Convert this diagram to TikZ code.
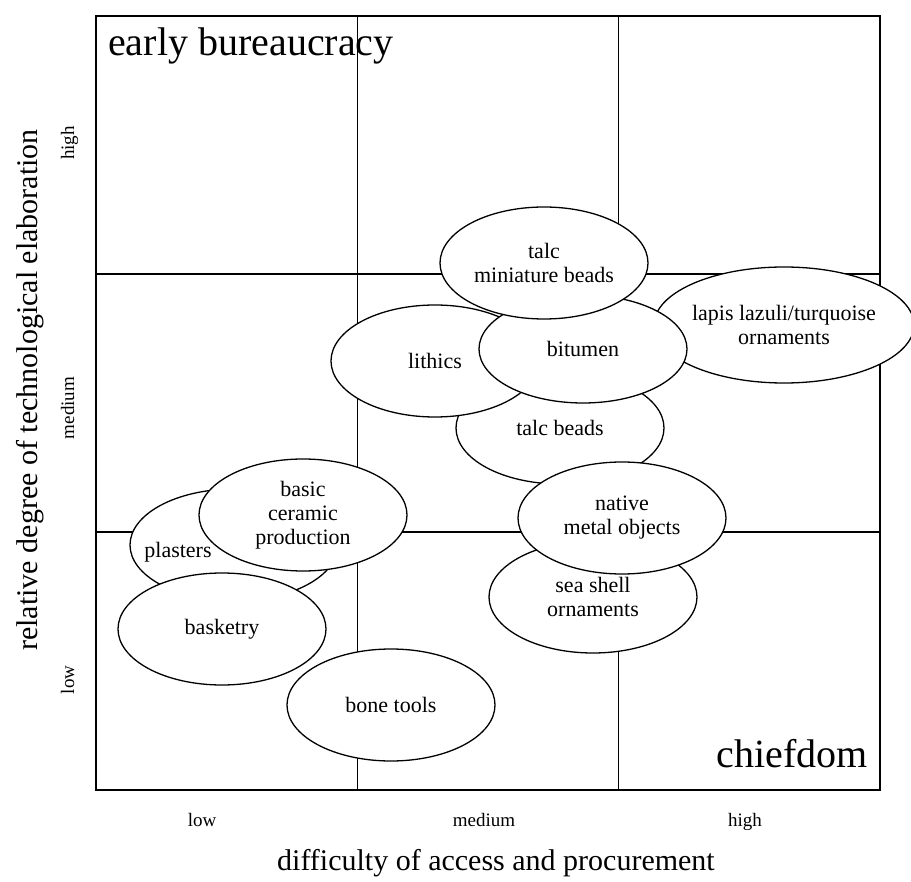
\documentclass[tikz,border=0pt]{standalone}
\usepackage{fontspec}
\setmainfont{Liberation Serif}
\usetikzlibrary{shapes.geometric}

\begin{document}
\begin{tikzpicture}[x=1pt,y=-1pt,
  frameline/.style={line width=1.5pt},
  gridline/.style={line width=1.2pt},
  blob/.style={ellipse, draw, fill=white, line width=1.3pt,
    minimum width=208pt, minimum height=112pt, inner sep=0pt,
    align=center, font=\fontsize{22}{24}\selectfont},
  blobtext/.style={inner sep=0pt, font=\fontsize{22}{24}\selectfont},
  regime/.style={inner sep=0pt, font=\fontsize{40}{44}\selectfont},
  axistitle/.style={inner sep=0pt, font=\fontsize{30}{34}\selectfont},
  ticklabel/.style={inner sep=0pt, anchor=base, font=\fontsize{19}{22}\selectfont}]
\useasboundingbox (0,0) rectangle (911,882);

% 3 x 3 grid
\draw[frameline] (96,16) rectangle (880,790);
\draw[gridline] (357.3,16) -- (357.3,790);
\draw[gridline] (618.7,16) -- (618.7,790);
\draw[gridline] (96,274) -- (880,274);
\draw[gridline] (96,532) -- (880,532);

% corner labels
\node[regime, anchor=base west] (bureau) at (108,56) {early bureaucracy};
\node[regime, anchor=base east] (chief) at (868,767) {chiefdom};

% craft ellipses, back to front
\node[blob, minimum width=252pt, minimum height=116pt] (lapis) at (784,325)
  {lapis lazuli/turquoise\\ornaments};
\node[blob] (talcbeads) at (560,428) {talc beads};
\node[blob] (lithics) at (435,361) {lithics};
\node[blob, minimum height=108pt] (bitumen) at (583,349) {bitumen};
\node[blob] (talcmini) at (544,263) {talc\\miniature beads};
\node[blob] (seashell) at (593,597) {sea shell\\ornaments};
\node[blob] (metal) at (622,518) {native\\metal objects};
\node[blob] (plasters) at (234,545) {};
\node[blobtext] (plasterslabel) at (178,552) {plasters};
\node[blob] (ceramic) at (303,515) {basic\\ceramic\\production};
\node[blob] (basketry) at (222,629) {basketry};
\node[blob] (bone) at (391,705) {bone tools};

% horizontal axis
\node[ticklabel] (xlow) at (202,826) {low};
\node[ticklabel] (xmed) at (484,826) {medium};
\node[ticklabel] (xhigh) at (745,826) {high};
\node[axistitle] (xtitle) at (496,863) {difficulty of access and procurement};

% vertical axis
\node[ticklabel, rotate=90] (ylow) at (74,680) {low};
\node[ticklabel, rotate=90] (ymed) at (74,408) {medium};
\node[ticklabel, rotate=90] (yhigh) at (74,143) {high};
\node[axistitle, rotate=90] (ytitle) at (30,390) {relative degree of technological elaboration};
\end{tikzpicture}
\end{document}
